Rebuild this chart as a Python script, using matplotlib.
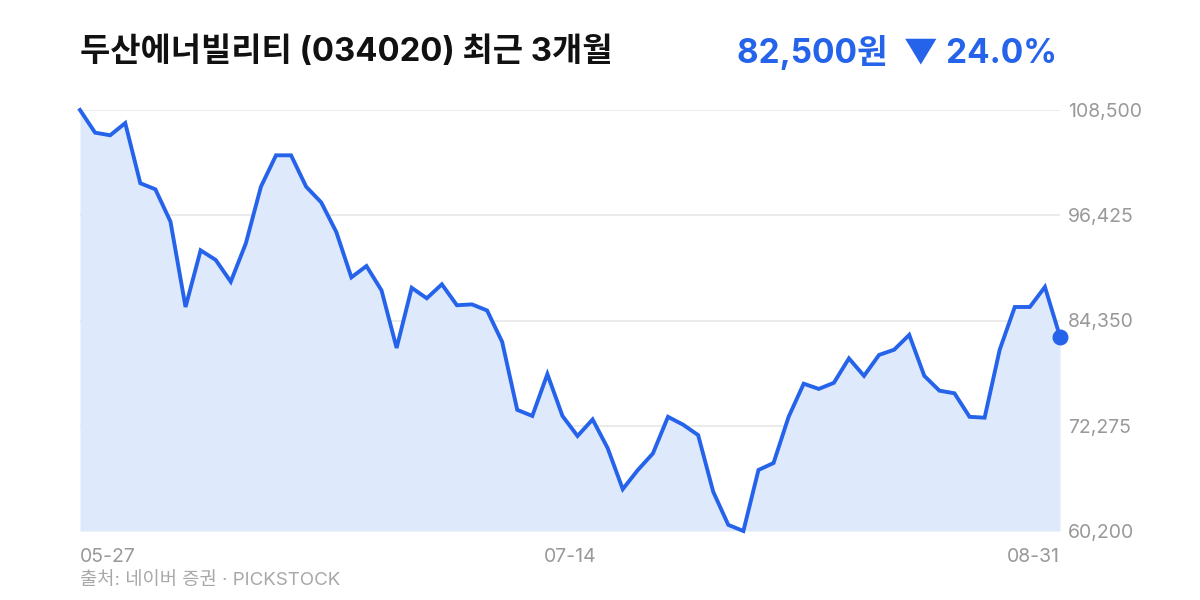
import numpy as np
import matplotlib
matplotlib.use("Agg")
import matplotlib.pyplot as plt

plt.rcParams['font.family'] = ['Inter', 'Noto Sans CJK KR', 'DejaVu Sans']

title = "두산에너빌리티 (034020) 최근 3개월"
price_text = "82,500원  ▼ 24.0%"
source = "출처: 네이버 증권 · PICKSTOCK"

prices = [108500, 105900, 105600, 107000, 100100, 99400, 95700, 85900, 92400, 91300,
          88800, 93200, 99700, 103300, 103300, 99700, 97900, 94500, 89300, 90600,
          87800, 81200, 88100, 86900, 88500, 86100, 86200, 85500, 81900, 74100,
          73400, 78200, 73400, 71100, 73000, 69700, 65000, 67200, 69100, 73300,
          72400, 71200, 64700, 60900, 60200, 67200, 68000, 73300, 77100, 76500,
          77200, 80000, 78000, 80400, 81000, 82700, 78000, 76300, 76000, 73300,
          73200, 81000, 85900, 85900, 88200, 82500]
date_labels = ["05-27", "07-14", "08-31"]

blue = "#2563EB"
grey = "#999999"

x = np.arange(len(prices))
lo, hi = min(prices), max(prices)
yticks = np.linspace(lo, hi, 5)

fig = plt.figure(figsize=(12, 6), dpi=100)
ax = fig.add_axes([80 / 1200, 1 - 531 / 600, 980 / 1200, 421 / 600])

ax.fill_between(x, prices, lo, color="#dfe9fc", lw=0, zorder=1)
ax.plot(x, prices, color=blue, lw=2.8, solid_joinstyle="miter", zorder=3, clip_on=False)
ax.scatter([x[-1]], [prices[-1]], s=110, color=blue, zorder=4, clip_on=False)

ax.set_xlim(0, len(prices) - 1)
ax.set_ylim(lo, hi)
for v in yticks[1:]:
    ax.axhline(v, color="#ebebeb", lw=1.4, zorder=0)

ax.set_yticks(yticks)
ax.set_yticklabels([f"{int(v):,}" for v in yticks])
ax.yaxis.tick_right()
ax.tick_params(axis="y", length=0, pad=6, labelsize=14, labelcolor=grey)

ax.set_xticks([0, (len(prices) - 1) / 2, len(prices) - 1])
ax.set_xticklabels(date_labels)
ax.tick_params(axis="x", length=0, pad=12, labelsize=14, labelcolor=grey)
xl = ax.get_xticklabels()
xl[0].set_ha("left")
xl[2].set_ha("right")

for s in ax.spines.values():
    s.set_visible(False)

fig.text(80 / 1200, 1 - 52 / 600, title, fontsize=23.7, fontweight="bold",
         color="#111111", ha="left", va="center")
fig.text(1057 / 1200, 1 - 52 / 600, price_text, fontsize=24, fontweight="bold",
         color=blue, ha="right", va="center")
fig.text(80 / 1200, 1 - 580 / 600, source, fontsize=13.5, color="#a8a8a8",
         ha="left", va="center")

fig.savefig("out.png", dpi=100)
